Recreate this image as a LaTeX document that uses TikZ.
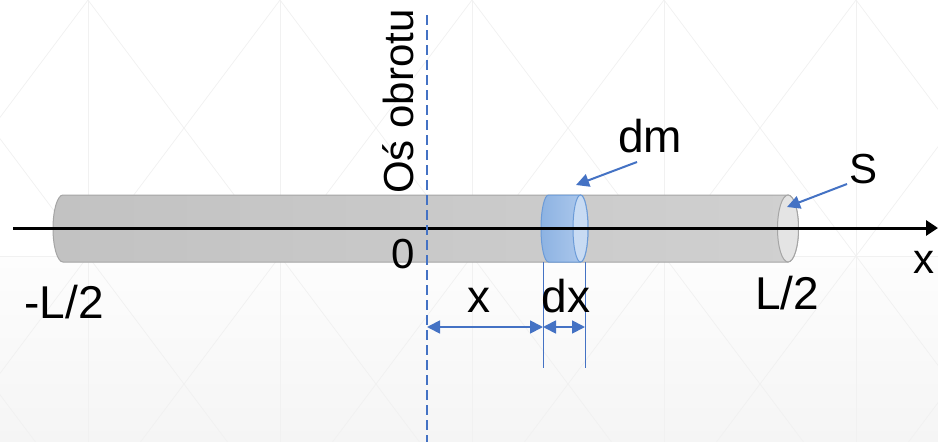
\documentclass[tikz,border=0pt]{standalone}
\usepackage{fontspec}
\setmainfont{Liberation Sans}
\usetikzlibrary{arrows.meta}
\definecolor{rodL}{HTML}{C2C2C2}
\definecolor{rodR}{HTML}{D0D0D0}
\definecolor{rodEdge}{HTML}{A5A5A5}
\definecolor{rodFace}{HTML}{E4E4E4}
\definecolor{dmL}{HTML}{8DB3E2}
\definecolor{dmR}{HTML}{B0CAED}
\definecolor{dmFace}{HTML}{C8DBF3}
\definecolor{dmEdge}{HTML}{6B9BD8}
\definecolor{obl}{HTML}{4472C4}
\definecolor{bgline}{HTML}{F1F1F1}
\definecolor{bgtop}{HTML}{FDFDFD}
\definecolor{bgbot}{HTML}{F5F5F5}
\tikzset{
  lbl/.style={inner sep=0pt, anchor=base, font=\fontsize{46}{50}\selectfont},
  lblsmall/.style={inner sep=0pt, anchor=base, font=\fontsize{42}{46}\selectfont},
  bluetip/.tip={Triangle[length=13pt,width=13pt]},
  leader/.style={draw=obl, line width=2pt, -bluetip},
  dimline/.style={draw=obl, line width=1.8pt, bluetip-bluetip},
  extline/.style={draw=obl, line width=1pt},
}
\begin{document}
\begin{tikzpicture}[x=1pt,y=-1pt]
\useasboundingbox (0,0) rectangle (938,442);
% background
\fill[white] (0,0) rectangle (938,256);
\shade[top color=bgtop, bottom color=bgbot] (0,256) rectangle (938,442);
\begin{scope}
\clip (0,0) rectangle (938,442);
\draw[bgline, line width=0.7pt] (0,256) -- (938,256);
\foreach \k in {0,...,4} \draw[bgline, line width=0.7pt] ({88+192*\k},0) -- ({88+192*\k},442);
\foreach \k in {-2,...,6} {
  \draw[bgline, line width=0.7pt] ({88+192*\k},0) -- ({88+192*\k+331.5},442);
  \draw[bgline, line width=0.7pt] ({88+192*\k},0) -- ({88+192*\k-331.5},442);
}
\end{scope}
% rod
\shade[left color=rodL, right color=rodR, draw=rodEdge, line width=1pt]
  (788,195) -- (63,195) arc[start angle=90, end angle=270, x radius=10pt, y radius=33.5pt]
  -- (788,262) arc[start angle=-90, end angle=90, x radius=10.5pt, y radius=33.5pt] -- cycle;
\draw[rodEdge, fill=rodFace, line width=1pt] (788,228.5) ellipse [x radius=10.5pt, y radius=33.5pt];
% dm element
\shade[left color=dmL, right color=dmR, draw=dmEdge, line width=1pt]
  (580.5,195) -- (548.5,195) arc[start angle=90, end angle=270, x radius=7.5pt, y radius=33.5pt]
  -- (580.5,262) arc[start angle=-90, end angle=90, x radius=7.5pt, y radius=33.5pt] -- cycle;
\draw[dmEdge, fill=dmFace, line width=1pt] (580.5,228.5) ellipse [x radius=7.5pt, y radius=33.5pt];
% x axis
\coordinate (ax0) at (13,228);
\coordinate (ax1) at (938,228);
\draw[line width=3pt, -{Triangle[length=12pt,width=15pt]}] (ax0) -- (ax1);
% rotation axis
\coordinate (rt) at (427,15);
\coordinate (rb) at (427,442);
\draw[obl, line width=2pt, dash pattern=on 10pt off 5pt] (rt) -- (rb);
% extension lines
\coordinate (e1t) at (543,262); \coordinate (e1b) at (543,368);
\coordinate (e2t) at (585,262); \coordinate (e2b) at (585,368);
\draw[extline] (e1t) -- (e1b);
\draw[extline] (e2t) -- (e2b);
% dimensions
\coordinate (d0) at (427,327);
\coordinate (d1) at (543,327);
\coordinate (d2) at (585,327);
\draw[dimline] (d0) -- (d1);
\draw[dimline] (d1) -- (d2);
% leaders
\coordinate (dmS) at (637,162); \coordinate (dmT) at (576,185);
\coordinate (sS) at (847,184); \coordinate (sT) at (787,207);
\draw[leader] (dmS) -- (dmT);
\draw[leader] (sS) -- (sT);
% labels
\node[lbl] (tdm) at (650,152) {dm};
\node[lblsmall] (tS) at (864,183) {S};
\node[lblsmall] (tx) at (924,273) {x};
\node[lbl] (tL2) at (787,309) {L/2};
\node[lbl] (tmL2) at (64,318) {-L/2};
\node[lblsmall] (t0) at (403,268) {0};
\node[lbl] (tdx1) at (479,312) {x};
\node[lbl] (tdx) at (566,312) {dx};
\node[lblsmall, anchor=base west, rotate=90] (tos) at (413,194) {Oś obrotu};
\end{tikzpicture}
\end{document}
